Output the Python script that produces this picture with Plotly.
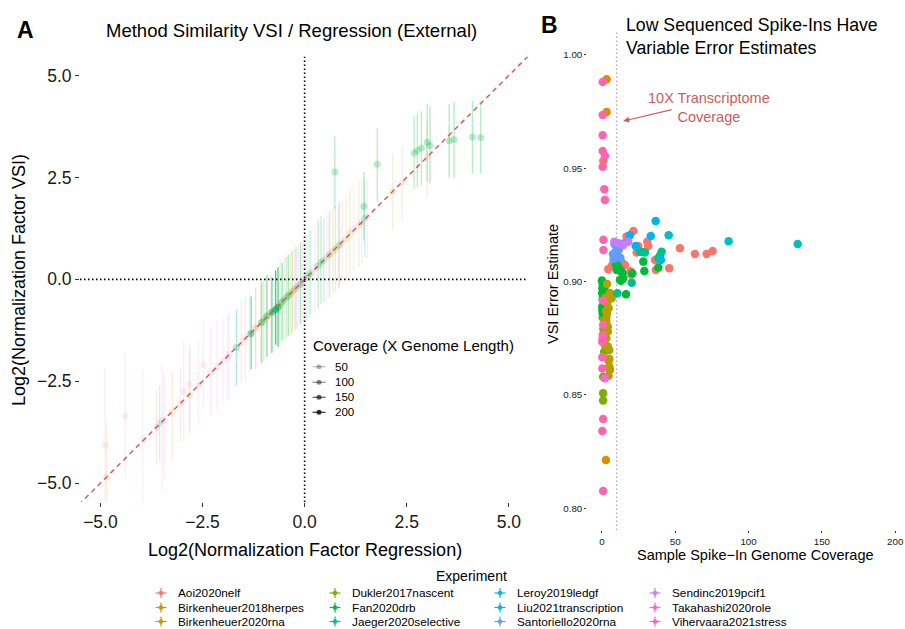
import plotly.graph_objects as go

W, H = 905, 629
FONT = "Liberation Sans, Arial, Helvetica, sans-serif"

experiments = ["Aoi2020nelf", "Birkenheuer2018herpes", "Birkenheuer2020rna", "Dukler2017nascent",
               "Fan2020drb", "Jaeger2020selective", "Leroy2019ledgf", "Liu2021transcription",
               "Santoriello2020rna", "Sendinc2019pcif1", "Takahashi2020role", "Vihervaara2021stress"]
palette = ["#F8766D", "#DE8C00", "#B79F00", "#7CAE00", "#00BA38", "#00C08B",
           "#00BFC4", "#00B4F0", "#619CFF", "#C77CFF", "#F564E3", "#FF64B0"]
color_of = dict(zip(experiments, palette))

# ---------------- Panel A data ----------------
a_exp = ["Fan2020drb", "Fan2020drb", "Fan2020drb", "Jaeger2020selective", "Birkenheuer2020rna", "Aoi2020nelf",
         "Fan2020drb", "Fan2020drb", "Fan2020drb", "Fan2020drb", "Fan2020drb", "Aoi2020nelf",
         "Fan2020drb", "Fan2020drb", "Fan2020drb", "Fan2020drb",
         "Birkenheuer2020rna", "Birkenheuer2020rna", "Vihervaara2021stress", "Birkenheuer2020rna",
         "Sendinc2019pcif1", "Fan2020drb", "Dukler2017nascent", "Vihervaara2021stress",
         "Fan2020drb", "Fan2020drb", "Santoriello2020rna", "Aoi2020nelf", "Birkenheuer2018herpes",
         "Vihervaara2021stress", "Takahashi2020role", "Jaeger2020selective",
         "Jaeger2020selective", "Fan2020drb", "Birkenheuer2020rna", "Vihervaara2021stress",
         "Jaeger2020selective", "Fan2020drb", "Birkenheuer2020rna", "Birkenheuer2020rna", "Fan2020drb",
         "Vihervaara2021stress", "Dukler2017nascent", "Fan2020drb", "Fan2020drb", "Leroy2019ledgf",
         "Sendinc2019pcif1", "Vihervaara2021stress", "Aoi2020nelf", "Takahashi2020role",
         "Vihervaara2021stress", "Vihervaara2021stress", "Vihervaara2021stress", "Vihervaara2021stress",
         "Birkenheuer2018herpes", "Santoriello2020rna", "Birkenheuer2020rna", "Fan2020drb",
         "Vihervaara2021stress", "Birkenheuer2018herpes", "Vihervaara2021stress", "Vihervaara2021stress",
         "Aoi2020nelf", "Jaeger2020selective", "Vihervaara2021stress", "Vihervaara2021stress",
         "Birkenheuer2018herpes", "Aoi2020nelf", "Vihervaara2021stress", "Vihervaara2021stress",
         "Birkenheuer2018herpes", "Vihervaara2021stress", "Takahashi2020role",
         "Santoriello2020rna", "Sendinc2019pcif1", "Dukler2017nascent", "Fan2020drb",
         "Birkenheuer2018herpes", "Jaeger2020selective", "Dukler2017nascent", "Fan2020drb",
         "Vihervaara2021stress", "Birkenheuer2020rna", "Liu2021transcription", "Takahashi2020role",
         "Fan2020drb", "Aoi2020nelf"]
a_reg = [0.74, 1.78, 1.45, 1.47, 2.16, 2.39,
         2.68, 2.76, 2.86, 3.00, 3.07, 3.00,
         3.54, 3.66, 4.11, 4.31,
         1.33, 1.11, 0.92, 0.69,
         0.54, 0.33, 0.11, 1.54,
         0.40, 0.47, 0.62, 0.82, 1.02,
         1.20, 0.25, 0.05,
         -1.67, -1.31, -1.08, -0.83,
         -0.71, -0.55, -0.34, -0.22, -0.10,
         0.00, -0.45, -0.80, -0.92, -1.00,
         -1.20, -1.45, -1.55, -1.85,
         -1.89, -2.14, -2.30, -2.48,
         -0.60, -0.25, -1.20, -0.65,
         -4.89, -4.85, -4.39, -3.96,
         -3.63, -3.55, -3.49, -3.44,
         -3.24, -3.04, -2.96, -2.82,
         -2.81, -2.60, -2.00,
         -1.35, -0.15, -0.30, -0.40,
         -0.95, 0.15, 0.75, 0.85,
         -0.05, 0.60, -0.50, 1.40,
         -1.05, -0.20]
a_vsi = [2.63, 2.82, 1.79, 1.50, 2.16, 2.39,
         3.10, 3.16, 3.22, 3.36, 3.28, 3.00,
         3.40, 3.43, 3.49, 3.48,
         1.33, 1.11, 0.92, 0.69,
         0.54, 0.33, 0.11, 1.54,
         0.42, 0.47, 0.62, 0.80, 1.00,
         1.22, 0.25, 0.05,
         -1.67, -1.33, -1.08, -0.83,
         -0.74, -0.55, -0.34, -0.22, -0.12,
         0.02, -0.45, -0.80, -0.90, -1.00,
         -1.20, -1.45, -1.55, -1.85,
         -1.89, -2.14, -2.30, -2.09,
         -0.60, -0.25, -1.20, -0.68,
         -4.07, -4.84, -3.35, -3.93,
         -3.63, -3.54, -3.46, -3.46,
         -3.25, -3.04, -2.74, -2.57,
         -2.84, -2.60, -2.00,
         -1.35, -0.15, -0.30, -0.40,
         -0.95, 0.15, 0.75, 0.85,
         -0.05, 0.60, -0.50, 1.40,
         -1.05, -0.20]
a_lo = [1.74, 1.90, 0.95, 0.55, 1.20, 1.45,
        2.23, 2.26, 2.30, 2.40, 2.35, 2.00,
        2.50, 2.50, 2.60, 2.60,
        0.30, 0.10, -0.10, -0.35,
        -0.50, -0.72, -0.95, 0.51,
        -0.60, -0.55, -0.45, -0.25, -0.05,
        0.20, -0.80, -1.00,
        -2.60, -2.20, -2.05, -1.85,
        -1.60, -1.50, -1.35, -1.25, -1.10,
        -1.00, -1.45, -1.80, -1.90, -2.00,
        -2.20, -2.50, -2.55, -2.95,
        -2.95, -3.20, -3.35, -3.20,
        -1.60, -1.25, -2.20, -1.65,
        -5.60, -5.60, -4.84, -5.60,
        -4.56, -4.44, -5.20, -4.90,
        -4.44, -3.99, -3.99, -3.70,
        -3.80, -3.55, -3.00,
        -2.30, -1.15, -1.30, -1.40,
        -1.95, -0.85, -0.30, -0.20,
        -1.05, -0.45, -1.50, 0.35,
        -2.05, -1.20]
a_hi = [3.51, 3.71, 2.63, 2.45, 3.09, 3.26,
        4.00, 4.06, 4.12, 4.30, 4.26, 3.90,
        4.30, 4.35, 4.38, 4.36,
        2.40, 2.20, 1.95, 1.75,
        1.60, 1.45, 1.20, 2.45,
        1.55, 1.50, 1.72, 1.85, 2.05,
        2.30, 1.30, 1.10,
        -0.75, -0.42, -0.10, 0.20,
        0.22, 0.40, 0.65, 0.80, 0.90,
        1.00, 0.55, 0.05, 0.10, 0.00,
        -0.20, -0.40, -0.50, -0.75,
        -0.85, -1.00, -1.20, -1.00,
        0.45, 0.75, -0.20, 0.30,
        -2.18, -3.50, -1.82, -2.23,
        -2.72, -2.61, -2.10, -2.30,
        -2.23, -2.15, -1.50, -1.70,
        -1.60, -1.50, -0.95,
        -0.35, 0.85, 0.70, 0.60,
        0.05, 1.20, 1.80, 1.90,
        1.00, 1.65, 0.50, 2.45,
        -0.05, 0.80]
a_cov = [45, 45, 50, 30, 15, 10,
         45, 45, 45, 50, 50, 12,
         55, 50, 50, 50,
         15, 15, 8, 15,
         8, 40, 30, 8,
         35, 25, 8, 8, 10,
         6, 6, 20,
         60, 110, 20, 10,
         200, 80, 20, 20, 60,
         8, 40, 120, 90, 25,
         10, 8, 10, 6,
         6, 6, 6, 6,
         15, 10, 20, 150,
         5, 12, 5, 5,
         15, 20, 5, 5,
         10, 12, 5, 5,
         10, 5, 5,
         10, 15, 45, 70,
         20, 30, 25, 30,
         8, 25, 12, 8,
         70, 12]

coverage_breaks = [50, 100, 150, 200]
COV_MAX = 260.0

# ---------------- Panel B data ----------------
cov_aoi = [0.9, 21.4, 16.8, 30.9, 31.6, 29.3, 24.8, 23.7, 53.2, 63.4, 71.4, 75.5, 36.2, 36.8, 45.9,
           4.3, 6.6, 7.7, 13.8, 15.7, 12.0, 20.0, 19.5]
err_aoi = [0.9533, 0.9223, 0.9199, 0.9176, 0.9157, 0.9132, 0.9157, 0.9128, 0.9147, 0.9122, 0.9122, 0.9135,
           0.9095, 0.9051, 0.9059, 0.9054, 0.9069, 0.9081, 0.9083, 0.9073, 0.9060, 0.9030, 0.9045]
cov_birk18 = [3.2, 3.2, 2.7]
err_birk18 = [0.9893, 0.9748, 0.8213]
cov_birk20 = [3.5, 5.5, 5.0, 3.5, 4.5, 3.5, 3.0, 4.0, 3.0, 4.0, 5.0, 4.5, 5.0, 5.5, 4.5, 6.6, 2.5, 2.8,
              3.0, 4.0, 2.0, 5.0]
err_birk20 = [0.8989, 0.8950, 0.8933, 0.8904, 0.8882, 0.8860, 0.8823, 0.8801, 0.8750, 0.8713, 0.8698,
              0.8651, 0.8625, 0.8611, 0.8584, 0.8926, 0.8930, 0.8870, 0.8840, 0.8780, 0.8720, 0.8660]
cov_dukler = [0.8, 0.8, 0.5, 1.0, 0.5, 1.5, 0.8]
err_dukler = [0.8507, 0.8475, 0.8840, 0.8790, 0.8950, 0.8690, 0.8580]
cov_fan = [0.0, 0.5, 0.3, 1.0, 0.2, 2.0, 0.5, 1.5, 0.2, 1.0, 0.5, 2.5, 1.8, 0.7, 0.3, 1.2,
           10.0, 11.1, 10.0, 12.3, 13.4, 13.8, 12.9, 20.7, 16.4, 28.2, 28.9, 38.4, 14.1, 12.3, 14.5, 9.5]
err_fan = [0.9005, 0.8990, 0.8970, 0.8960, 0.8950, 0.8940, 0.8920, 0.8910, 0.8890, 0.8880, 0.8860, 0.8905,
           0.8975, 0.8935, 0.8875, 0.8965,
           0.9083, 0.9066, 0.9051, 0.9048, 0.9044, 0.9011, 0.9004, 0.9037, 0.8944, 0.9088, 0.9047, 0.9062,
           0.9037, 0.9007, 0.9015, 0.9075]
cov_jaeger = [25.9, 29.3, 40.7, 39.6, 38.4, 20.3, 10.5, 27.0]
err_jaeger = [0.9132, 0.9128, 0.9132, 0.9115, 0.9103, 0.8995, 0.8948, 0.9130]
cov_leroy = [45.5, 86.4, 133.5]
err_leroy = [0.9204, 0.9178, 0.9166]
cov_liu = [36.6, 33.3, 17.5, 23.0, 40.2, 19.0]
err_liu = [0.9267, 0.9201, 0.9176, 0.9157, 0.9095, 0.9204]
cov_sant = [8.6, 10.0, 11.5, 13.0, 7.5, 12.5, 8.0, 14.5, 11.0, 9.5]
err_sant = [0.9165, 0.9155, 0.9140, 0.9160, 0.9120, 0.9105, 0.9100, 0.9168, 0.9110, 0.9135]
cov_sendinc = [8.4, 11.1, 14.5, 17.9]
err_sendinc = [0.9176, 0.9169, 0.9161, 0.9176]
cov_taka = [2.0]
err_taka = [0.8573]
cov_vih = [0.5, 0.5, 0.5, 0.5, 2.0, 0.5, 1.6, 2.0, 1.0, 1.0, 0.8, 0.8, 0.5, 0.5, 0.2, 0.3, 0.3, 0.8, 0.3, 0.8]
err_vih = [0.9880, 0.9735, 0.9645, 0.9576, 0.9555, 0.9507, 0.9407, 0.9360, 0.9184, 0.9139, 0.8917, 0.8809,
           0.8764, 0.8750, 0.8735, 0.8666, 0.8617, 0.8394, 0.8341, 0.8076]

b_series = [
    ("Aoi2020nelf", cov_aoi, err_aoi),
    ("Birkenheuer2018herpes", cov_birk18, err_birk18),
    ("Dukler2017nascent", cov_dukler, err_dukler),
    ("Fan2020drb", cov_fan, err_fan),
    ("Birkenheuer2020rna", cov_birk20, err_birk20),
    ("Jaeger2020selective", cov_jaeger, err_jaeger),
    ("Leroy2019ledgf", cov_leroy, err_leroy),
    ("Liu2021transcription", cov_liu, err_liu),
    ("Santoriello2020rna", cov_sant, err_sant),
    ("Sendinc2019pcif1", cov_sendinc, err_sendinc),
    ("Takahashi2020role", cov_taka, err_taka),
    ("Vihervaara2021stress", cov_vih, err_vih),
]

B_X0_PX, B_PX_PER_UNIT = 602.0, 1.466


def rgba(hexc, a):
    h = hexc.lstrip("#")
    r, g, b = int(h[0:2], 16), int(h[2:4], 16), int(h[4:6], 16)
    return f"rgba({r},{g},{b},{a:.3f})"


def cov_alpha(c):
    return 0.1 + 0.9 * min(c, COV_MAX) / COV_MAX


def px(x):
    return x / W


def py(y):
    return 1 - y / H


fig = go.Figure()

# ---------------- Panel A ----------------
for e, xv, yv, lo, hi, c in zip(a_exp, a_reg, a_vsi, a_lo, a_hi, a_cov):
    col = rgba(color_of[e], cov_alpha(c))
    fig.add_trace(go.Scatter(
        x=[xv], y=[yv], mode="markers", xaxis="x", yaxis="y",
        marker=dict(color=col, size=7, line=dict(width=0)),
        error_y=dict(type="data", symmetric=False, array=[hi - yv], arrayminus=[yv - lo],
                     color=col, thickness=1.4, width=0),
        showlegend=False, hoverinfo="skip"))

fig.add_trace(go.Scatter(x=[-6, 6], y=[-6, 6], mode="lines", xaxis="x", yaxis="y",
                         line=dict(color="#D0605C", width=1.5, dash="5px,4px"),
                         showlegend=False, hoverinfo="skip"))

# ---------------- Panel B ----------------
for e, cv, ev in b_series:
    fig.add_trace(go.Scatter(x=cv, y=ev, mode="markers", xaxis="x2", yaxis="y2",
                             marker=dict(color=color_of[e], size=8.5, line=dict(width=0)),
                             showlegend=False, hoverinfo="skip"))

# ---------------- overlay (pixel) axis for legends ----------------
cov_title_y = 345
cov_rows = [366.7, 382.3, 397.3, 412.3]
for b, ry in zip(coverage_breaks, cov_rows):
    a = cov_alpha(b)
    fig.add_trace(go.Scatter(x=[312.5, 325.5], y=[ry, ry], mode="lines", xaxis="x3", yaxis="y3",
                             line=dict(color=f"rgba(0,0,0,{a:.3f})", width=1.2),
                             showlegend=False, hoverinfo="skip"))
    fig.add_trace(go.Scatter(x=[319], y=[ry], mode="markers", xaxis="x3", yaxis="y3",
                             marker=dict(color=f"rgba(0,0,0,{a:.3f})", size=5),
                             showlegend=False, hoverinfo="skip"))

leg_cols_key = [161, 335, 500, 655]
leg_cols_txt = [177, 351, 516, 671]
leg_rows = [593, 607.5, 621.5]
for i, (e, c) in enumerate(zip(experiments, palette)):
    ci, ri = i // 3, i % 3
    kx, ky = leg_cols_key[ci], leg_rows[ri]
    fig.add_trace(go.Scatter(x=[kx - 5.5, kx + 5.5, None, kx, kx], y=[ky, ky, None, ky - 5, ky + 5],
                             mode="lines", xaxis="x3", yaxis="y3",
                             line=dict(color=c, width=1.2), showlegend=False, hoverinfo="skip"))
    fig.add_trace(go.Scatter(x=[kx], y=[ky], mode="markers", xaxis="x3", yaxis="y3",
                             marker=dict(color=c, size=4.5), showlegend=False, hoverinfo="skip"))

# ---------------- annotations ----------------
ann = []


def txt(x, y, s, size, color="#000", xanchor="center", yanchor="middle", bold=False, angle=0, **kw):
    ann.append(dict(x=px(x), y=py(y), xref="paper", yref="paper", text=(f"<b>{s}</b>" if bold else s),
                    showarrow=False, xanchor=xanchor, yanchor=yanchor, textangle=angle,
                    font=dict(family=FONT, size=size, color=color), **kw))


txt(25, 30, "A", 23, bold=True)
txt(549, 25, "B", 23, bold=True)
txt(291, 31, "Method Similarity VSI / Regression (External)", 18.5)
txt(624, 25, "Low Sequenced Spike-Ins Have", 17.7, xanchor="left")
txt(624, 48, "Variable Error Estimates", 17.7, xanchor="left")
txt(305, 550, "Log2(Normalization Factor Regression)", 18)
txt(19, 280, "Log2(Normalization Factor VSI)", 18, angle=-90)
txt(755, 555, "Sample Spike\u2212In Genome Coverage", 14.5)
txt(553, 284, "VSI Error Estimate", 14.5, angle=-90)
txt(311, cov_title_y, "Coverage (X Genome Length)", 15, xanchor="left")
for b, ry in zip(coverage_breaks, cov_rows):
    txt(333, ry, str(b), 11.5, xanchor="left")
txt(471, 576, "Experiment", 14)
for i, e in enumerate(experiments):
    ci, ri = i // 3, i % 3
    txt(leg_cols_txt[ci], leg_rows[ri], e, 11.8, xanchor="left", borderpad=0)

# red note with arrow (panel B)
txt(709, 107.5, "10X Transcriptome<br>Coverage", 14.5, color="#CD5C5C", align="center")
ann.append(dict(x=14.5, y=0.9708, xref="x2", yref="y2", ax=48.6, ay=0.9760, axref="x2", ayref="y2",
                text="", showarrow=True, arrowhead=2, arrowsize=1, arrowwidth=1.2, arrowcolor="#CD5C5C"))

shapes = [
    dict(type="line", xref="x", yref="y domain", x0=0, x1=0, y0=0, y1=1,
         line=dict(color="#000", width=1.6, dash="1.5px,2.5px"), layer="above"),
    dict(type="line", xref="x domain", yref="y", x0=0, x1=1, y0=0, y1=0,
         line=dict(color="#000", width=1.6, dash="1.5px,2.5px"), layer="above"),
    dict(type="line", xref="x2", yref="y2 domain", x0=10, x1=10, y0=0, y1=1,
         line=dict(color="#E08A88", width=1, dash="1.5px,2.5px"), layer="below"),
]

tick_common = dict(showgrid=False, zeroline=False, showline=False, ticks="outside",
                   tickcolor="#333", tickwidth=1)

fig.update_layout(
    width=W, height=H, margin=dict(l=0, r=0, t=0, b=0),
    paper_bgcolor="white", plot_bgcolor="rgba(0,0,0,0)", template="none",
    showlegend=False, font=dict(family=FONT, color="#000"),
    xaxis=dict(domain=[px(80), px(528)], range=[-5.5, 5.47], anchor="y",
               tickvals=[-5, -2.5, 0, 2.5, 5], ticktext=["\u22125.0", "\u22122.5", "0.0", "2.5", "5.0"],
               tickfont=dict(size=17.5, color="#1a1a1a", family=FONT), ticklen=4, **tick_common),
    yaxis=dict(domain=[py(502), py(56.7)], range=[-5.46, 5.46], anchor="x",
               tickvals=[-5, -2.5, 0, 2.5, 5], ticktext=["\u22125.0", "\u22122.5", "0.0", "2.5", "5.0"],
               tickfont=dict(size=17.5, color="#1a1a1a", family=FONT), ticklen=4, **tick_common),
    xaxis2=dict(domain=[px(587.3), 1.0], range=[-10, (905 - B_X0_PX) / B_PX_PER_UNIT], anchor="y2",
                tickvals=[0, 50, 100, 150, 200], ticktext=["0", "50", "100", "150", "200"],
                tickfont=dict(size=9.8, color="#1a1a1a", family=FONT), ticklen=2, **tick_common),
    yaxis2=dict(domain=[py(530), py(32)], range=[0.7904, 1.0101], anchor="x2",
                tickvals=[0.80, 0.85, 0.90, 0.95, 1.00], ticktext=["0.80", "0.85", "0.90", "0.95", "1.00"],
                tickfont=dict(size=9.8, color="#1a1a1a", family=FONT), ticklen=2, **tick_common),
    xaxis3=dict(domain=[0, 1], range=[0, W], visible=False, anchor="y3", fixedrange=True),
    yaxis3=dict(domain=[0, 1], range=[H, 0], visible=False, anchor="x3", fixedrange=True),
    annotations=ann, shapes=shapes,
)

fig.write_html("out.html")
